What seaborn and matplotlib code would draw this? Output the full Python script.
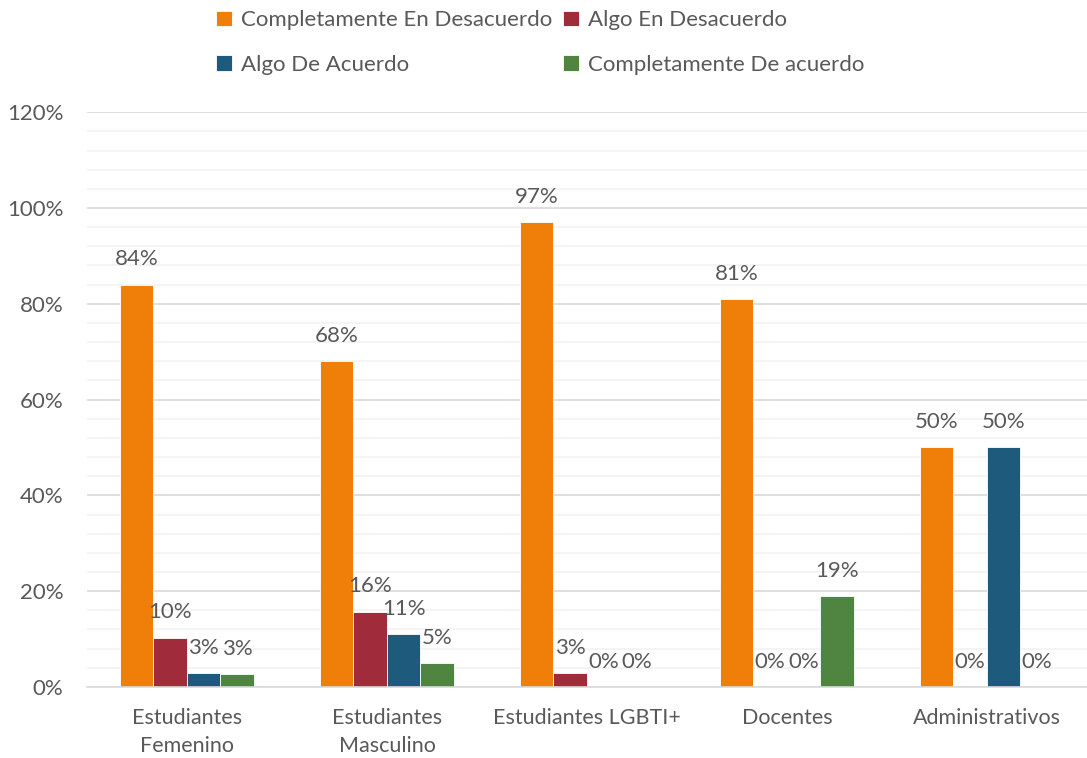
import pandas as pd
import matplotlib.pyplot as plt
import seaborn as sns
from matplotlib.ticker import MultipleLocator, PercentFormatter

categorias = ["Estudiantes\nFemenino", "Estudiantes\nMasculino", "Estudiantes LGBTI+",
              "Docentes", "Administrativos"]
series = ["Completamente En Desacuerdo", "Algo En Desacuerdo",
          "Algo De Acuerdo", "Completamente De acuerdo"]
comp_desacuerdo = [84, 68, 97, 81, 50]
algo_desacuerdo = [10.3, 15.7, 2.9, 0, 0]
algo_acuerdo = [2.9, 11.0, 0, 0, 50]
comp_acuerdo = [2.7, 5.0, 0, 19, 0]
colores = ["#F07F09", "#A02B3B", "#1E5A7C", "#4F8540"]

valores = [comp_desacuerdo, algo_desacuerdo, algo_acuerdo, comp_acuerdo]
filas = []
for s, vals in zip(series, valores):
    for c, v in zip(categorias, vals):
        filas.append({"grupo": c, "respuesta": s, "pct": v})
df = pd.DataFrame(filas)

sns.set_style("white")
plt.rcParams["font.family"] = ["Lato", "DejaVu Sans"]
texto = "#595959"
fs = 16

fig = plt.figure(figsize=(10.87, 7.58), dpi=100)
ax = fig.add_axes([0.080, 0.0937, 0.92, 0.7583])

sns.barplot(data=df, x="grupo", y="pct", hue="respuesta", order=categorias,
            hue_order=series, palette=colores, width=0.67, ax=ax,
            edgecolor="white", linewidth=0.6, saturation=1)

for cont in ax.containers:
    ax.bar_label(cont, labels=[f"{b.get_height():.0f}%" for b in cont],
                 padding=11, fontsize=fs, color=texto)

ax.set_ylim(0, 120)
ax.set_xlim(-0.5, 4.5)
ax.yaxis.set_major_locator(MultipleLocator(20))
ax.yaxis.set_minor_locator(MultipleLocator(4))
ax.yaxis.set_major_formatter(PercentFormatter(decimals=0))
ax.grid(axis="y", which="major", color="#D9D9D9", linewidth=1.2)
ax.grid(axis="y", which="minor", color="#F2F2F2", linewidth=1.2)
ax.set_axisbelow(True)
for lado in ["top", "right", "left"]:
    ax.spines[lado].set_visible(False)
ax.spines["bottom"].set_color("#D9D9D9")
ax.spines["bottom"].set_linewidth(1.2)
ax.tick_params(axis="both", which="both", length=0, labelsize=fs, labelcolor=texto)
ax.tick_params(axis="x", pad=15, labelsize=15.5)
ax.tick_params(axis="y", pad=17)
for t in ax.get_xticklabels():
    t.set_linespacing(1.5)
ax.set_xlabel("")
ax.set_ylabel("")

handles, labels = ax.get_legend_handles_labels()
ax.get_legend().remove()
orden = [0, 2, 1, 3]
fig.legend([handles[i] for i in orden], [labels[i] for i in orden], ncol=2,
           loc="upper center", bbox_to_anchor=(0.497, 1.013),
           frameon=False, fontsize=fs, labelcolor=texto, handlelength=0.7,
           handleheight=0.7, handletextpad=0.4, columnspacing=0.5, labelspacing=1.1)

fig.savefig("out.png", dpi=100)
